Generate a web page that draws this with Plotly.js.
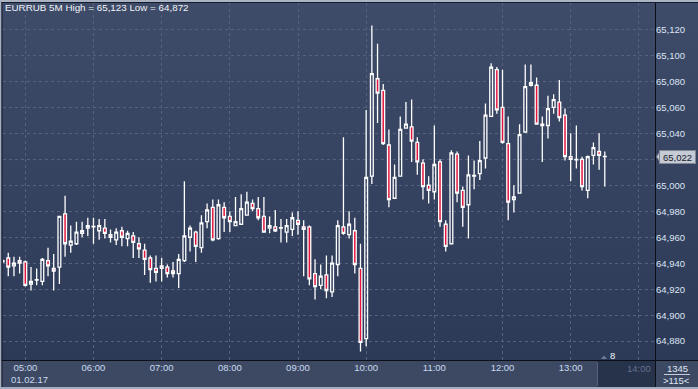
<!DOCTYPE html>
<html><head><meta charset="utf-8">
<script src="https://cdn.plot.ly/plotly-3.0.1.min.js"></script>
<style>
html,body{margin:0;padding:0;background:#2f3c58;overflow:hidden;}
#chart{width:698px;height:389px;background:linear-gradient(to bottom,#3f4c69 0px,#2c3a57 360px,#3d4962 360px,#3d4962 389px);}
</style></head><body><div id="chart"></div>
<script>
const times = ['04:40','04:45','04:50','04:55',
'05:00','05:05','05:10','05:15','05:20','05:25','05:30','05:35','05:40','05:45','05:50','05:55',
'06:00','06:05','06:10','06:15','06:20','06:25','06:30','06:35','06:40','06:45','06:50','06:55',
'07:00','07:05','07:10','07:15','07:20','07:25','07:30','07:35','07:40','07:45','07:50','07:55',
'08:00','08:05','08:10','08:15','08:20','08:25','08:30','08:35','08:40','08:45','08:50','08:55',
'09:00','09:05','09:10','09:15','09:20','09:25','09:30','09:35','09:40','09:45','09:50','09:55',
'10:00','10:05','10:10','10:15','10:20','10:25','10:30','10:35','10:40','10:45','10:50','10:55',
'11:00','11:05','11:10','11:15','11:20','11:25','11:30','11:35','11:40','11:45','11:50','11:55',
'12:00','12:05','12:10','12:15','12:20','12:25','12:30','12:35','12:40','12:45','12:50','12:55',
'13:00','13:05','13:10','13:15','13:20','13:25','13:30'];

const openV = [64.941,64.944,64.938,64.942,
64.941,64.924,64.927,64.926,64.942,64.936,64.937,64.978,64.954,64.955,64.963,64.967,
64.968,64.965,64.967,64.962,64.958,64.965,64.959,64.961,64.955,64.950,64.944,64.936,
64.936,64.937,64.934,64.932,64.942,64.960,64.964,64.952,64.972,64.983,64.959,64.983,
64.976,64.969,64.970,64.977,64.986,64.982,64.976,64.967,64.968,64.967,64.964,64.966,
64.973,64.968,64.968,64.932,64.923,64.931,64.918,64.939,64.968,64.962,64.965,64.936,
64.882,65.007,65.082,65.073,65.031,64.990,65.007,65.044,65.045,65.033,65.017,65.000,
64.995,65.018,64.970,64.955,65.024,64.996,64.985,65.007,65.009,65.021,65.053,65.089,
65.060,65.032,64.989,64.994,65.041,65.077,65.077,65.047,65.046,65.060,65.064,65.054,
65.022,65.020,65.020,64.996,65.023,65.026,65.022];

const highV = [64.943,64.948,64.945,64.945,
64.942,64.937,64.936,64.944,64.952,64.947,64.976,64.992,64.969,64.972,64.972,64.975,
64.975,64.974,64.974,64.966,64.967,64.968,64.965,64.964,64.960,64.955,64.946,64.946,
64.944,64.939,64.941,64.947,65.003,64.969,64.965,64.977,64.986,64.989,64.989,64.987,
64.980,64.991,64.993,64.995,64.989,64.991,64.991,64.976,64.981,64.974,64.974,64.979,
64.980,64.973,64.969,64.943,64.939,64.946,64.946,64.973,65.037,64.980,64.975,64.955,
65.058,65.123,65.109,65.078,65.043,65.016,65.053,65.064,65.066,65.037,65.020,65.007,
65.046,65.020,64.973,65.027,65.026,64.999,65.023,65.019,65.034,65.063,65.094,65.091,
65.089,65.053,65.000,65.047,65.093,65.093,65.083,65.053,65.069,65.070,65.081,65.059,
65.040,65.046,65.022,65.023,65.033,65.040,65.026];

const lowV = [64.940,64.930,64.930,64.932,
64.922,64.919,64.923,64.923,64.930,64.919,64.924,64.945,64.948,64.954,64.960,64.961,
64.955,64.958,64.959,64.956,64.954,64.953,64.953,64.944,64.944,64.931,64.925,64.926,
64.926,64.929,64.929,64.921,64.941,64.949,64.941,64.948,64.967,64.957,64.958,64.964,
64.964,64.969,64.970,64.977,64.980,64.973,64.964,64.963,64.964,64.956,64.956,64.961,
64.962,64.930,64.923,64.912,64.920,64.913,64.914,64.930,64.962,64.959,64.932,64.872,
64.876,65.001,65.048,65.031,64.983,64.990,65.007,65.044,65.018,65.008,64.989,64.986,
64.989,64.968,64.949,64.955,64.987,64.968,64.959,64.997,65.004,65.013,65.053,65.055,
65.032,64.973,64.979,64.994,65.041,65.076,65.047,65.018,65.036,65.055,65.049,65.019,
65.003,65.013,64.996,64.990,65.016,65.012,64.999];

const closeV = [64.942,64.937,64.940,64.940,
64.923,64.926,64.9273,64.943,64.938,64.934,64.976,64.955,64.957,64.964,64.965,64.969,
64.9683,64.969,64.963,64.960,64.964,64.960,64.963,64.956,64.951,64.943,64.935,64.933,
64.938,64.932,64.932,64.943,64.961,64.967,64.953,64.971,64.981,64.958,64.985,64.975,
64.972,64.972,64.982,64.987,64.982,64.975,64.964,64.969,64.965,64.9673,64.969,64.975,
64.970,64.966,64.928,64.922,64.930,64.919,64.940,64.969,64.963,64.970,64.939,64.879,
65.006,65.086,65.071,65.032,64.989,65.006,65.043,65.047,65.034,65.018,64.999,64.996,
65.016,64.972,64.953,65.025,64.994,64.983,65.008,65.0075,65.019,65.054,65.091,65.058,
65.033,64.987,64.991,65.039,65.076,65.079,65.047,65.046,65.059,65.066,65.052,65.022,
65.020,65.0195,64.999,65.022,65.029,65.023,65.0222];

const day = '2017-02-01 ';
const xTickTimes = ['05:00','06:00','07:00','08:00','09:00','10:00','11:00','12:00','13:00','14:00'];
const xTickLabels = ['05:00','06:00','07:00','08:00','09:00','10:00','11:00','12:00','13:00',''];
const yTickVals = [64.88,64.90,64.92,64.94,64.96,64.98,65.00,65.02,65.04,65.06,65.08,65.10,65.12];
// the 65,020 label sits under the last-price tag in the reference, so it is left blank
const yTickLabels = ['64,880','64,900','64,920','64,940','64,960','64,980','65,000','','65,040','65,060','65,080','65,100','65,120'];
const titleText = 'EURRUB 5M High = 65,123 Low = 64,872';
const dateLabel = '01.02.17';
const futureLabel = '14:00';
const lastPrice = 65.022;
const lastPriceLabel = '65,022';
const barsLabel = '8';
const countTop = '1345';
const countBottom = '&gt;115&lt;';

// pixel -> paper helpers (plot area: x 3..655, y 3..360)
const L = 3, T = 3, W = 652, H = 357;
const xp = px => (px - L) / W;
const yp = py => (T + H - py) / H;

const FONT = 'Liberation Sans, Arial, sans-serif';

const trace = {
  type: 'candlestick',
  x: times.map(t => day + t),
  open: openV, high: highV, low: lowV, close: closeV,
  increasing: {line: {color: '#ffffff', width: 1.3}, fillcolor: 'rgba(0,0,0,0)'},
  decreasing: {line: {color: '#ffffff', width: 1.3}, fillcolor: '#e3153c'},
  whiskerwidth: 0,
  hoverinfo: 'none',
  showlegend: false
};

const lineShape = (x0, y0, x1, y1, color, w) => ({
  type: 'line', xref: 'paper', yref: 'paper',
  x0: xp(x0), y0: yp(y0), x1: xp(x1), y1: yp(y1),
  line: {color: color, width: w}, layer: 'above'
});
const rectShape = (x0, y0, x1, y1, color, layer) => ({
  type: 'rect', xref: 'paper', yref: 'paper',
  x0: xp(x0), y0: yp(y0), x1: xp(x1), y1: yp(y1),
  fillcolor: color, line: {width: 0}, layer: layer || 'below'
});
const pathPx = pts => 'M ' + pts.map(p => xp(p[0]) + ',' + yp(p[1])).join(' L ') + ' Z';

const shapes = [
  rectShape(597, 361, 655, 387, '#27324b', 'below'),
  lineShape(597.5, 362, 597.5, 386, '#56607a', 1),
  lineShape(0, 360.5, 698, 360.5, '#0b0f18', 1),
  lineShape(655.5, 2, 655.5, 387, '#0b0f18', 1),
  rectShape(0, 0, 698, 2, '#aab3c3', 'above'),
  lineShape(0, 2.5, 698, 2.5, '#151b28', 1),
  rectShape(0, 0, 1.5, 389, '#a6aebf', 'above'),
  lineShape(2, 2, 2, 387, '#151b28', 1),
  rectShape(0, 387, 698, 389, '#a3adbf', 'above'),
  lineShape(664, 374.5, 690, 374.5, '#c4ccda', 1),
  {type: 'path', xref: 'paper', yref: 'paper', path: pathPx([[601, 359], [607, 359], [604, 355.5]]),
   fillcolor: '#707a92', line: {width: 0}, layer: 'above'},
  {type: 'path', xref: 'paper', yref: 'y',
   path: 'M ' + xp(660) + ',' + (lastPrice + 0.0040) + ' L ' + xp(656.5) + ',' + lastPrice + ' L ' + xp(660) + ',' + (lastPrice - 0.0040) + ' Z',
   fillcolor: '#c5cad4', line: {color: '#808898', width: 1}, layer: 'above'}
];

const ann = (text, x, y, opts) => Object.assign({
  text: text, xref: 'paper', yref: 'paper', x: xp(x), y: yp(y),
  xanchor: 'center', yanchor: 'middle', showarrow: false,
  font: {family: FONT, size: 9.5, color: '#dfe6f3'}
}, opts || {});

const annotations = [
  ann(titleText, 3, 8, {xanchor: 'left', font: {family: FONT, size: 9.8, color: '#f0f3f8'}}),
  ann(dateLabel, 30, 379, {font: {family: FONT, size: 9.5, color: '#c8daf2'}}),
  ann(futureLabel, 638.7, 368.5, {font: {family: FONT, size: 9.5, color: '#65718b'}}),
  ann(barsLabel, 612.5, 355.5, {font: {family: FONT, size: 9.5, color: '#f0f3f8'}}),
  ann(countTop, 677.5, 368, {font: {family: FONT, size: 9.5, color: '#dfe6f3'}}),
  ann(countBottom, 676.5, 380, {font: {family: FONT, size: 9.5, color: '#dfe6f3'}}),
  {text: lastPriceLabel, xref: 'paper', yref: 'y', x: xp(677.5), y: lastPrice,
   xanchor: 'center', yanchor: 'middle', showarrow: false,
   bgcolor: '#c5cad4', bordercolor: '#808898', borderwidth: 1, borderpad: 1,
   width: 33, height: 10,
   font: {family: FONT, size: 9.5, color: '#141c2c'}}
];

const layout = {
  width: 698, height: 389,
  margin: {l: L, r: 698 - L - W, t: T, b: 389 - T - H, pad: 0},
  paper_bgcolor: 'rgba(0,0,0,0)',
  plot_bgcolor: 'rgba(0,0,0,0)',
  font: {family: FONT, size: 9.5, color: '#dfe6f3'},
  showlegend: false,
  xaxis: {
    type: 'date',
    range: [day + '04:40:22', day + '14:14:12'],
    tickmode: 'array',
    tickvals: xTickTimes.map(t => day + t),
    ticktext: xTickLabels,
    showgrid: true, gridcolor: '#56627d', gridwidth: 1, griddash: 'dot',
    zeroline: false, showline: false, ticks: '',
    tickfont: {family: FONT, size: 9.5, color: '#c8daf2'},
    rangeslider: {visible: false},
    fixedrange: true
  },
  yaxis: {
    side: 'right',
    range: [64.8655, 65.1403],
    tickmode: 'array',
    tickvals: yTickVals,
    ticktext: yTickLabels,
    showgrid: true, gridcolor: '#56627d', gridwidth: 1, griddash: 'dot',
    zeroline: false, showline: false, ticks: '',
    tickfont: {family: FONT, size: 9.5, color: '#dbe4f3'},
    fixedrange: true
  },
  shapes: shapes,
  annotations: annotations
};

Plotly.newPlot('chart', [trace], layout, {displayModeBar: false, staticPlot: true});
</script></body></html>
